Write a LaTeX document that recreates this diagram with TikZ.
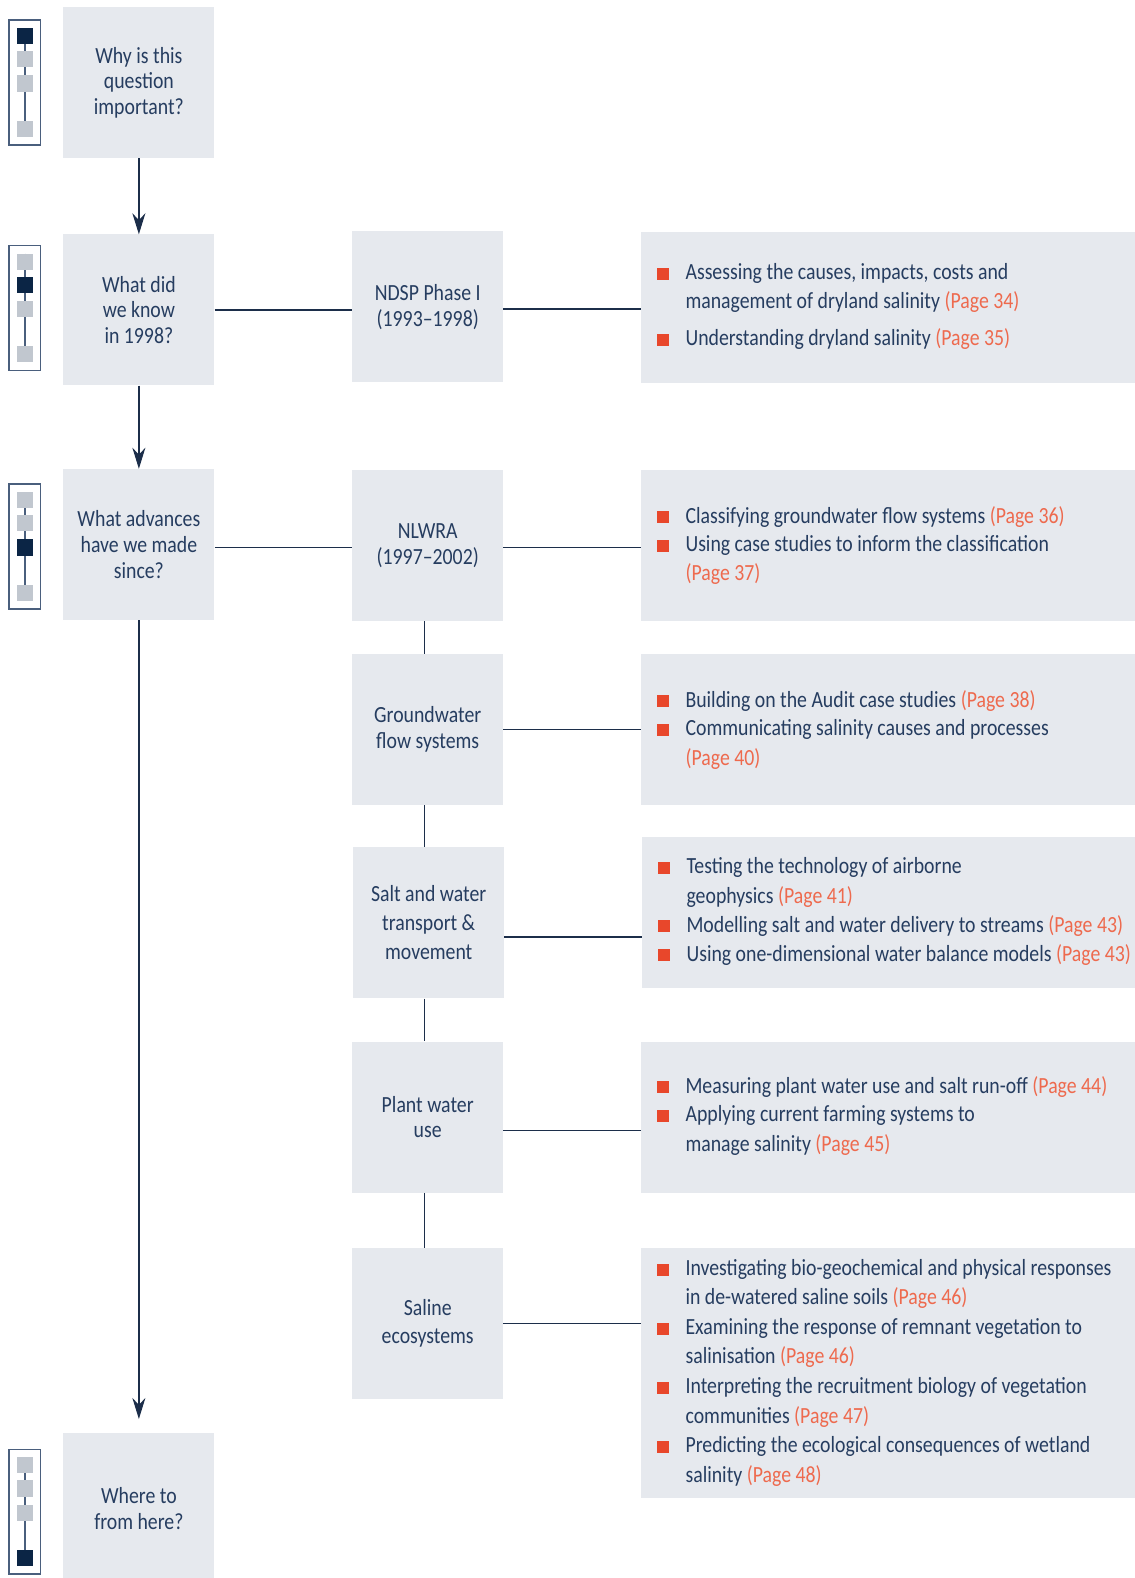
\documentclass[tikz,border=0pt]{standalone}
\usepackage{fontspec}
\setmainfont{Carlito}[FakeStretch=0.855]
\usetikzlibrary{arrows.meta}
\definecolor{boxc}{HTML}{E6E9EE}
\definecolor{txtc}{HTML}{263D60}
\definecolor{linec}{HTML}{1C2E4A}
\definecolor{sqdark}{HTML}{0B2545}
\definecolor{sqgray}{HTML}{C1C7CF}
\definecolor{framec}{HTML}{4A5F7D}
\definecolor{bulc}{HTML}{E8472B}
\definecolor{pgc}{HTML}{EE6A4E}
\newcommand\bul{\makebox[28pt][l]{\textcolor{bulc}{\rule{12pt}{12pt}}}}
\newcommand\ind{\hspace*{28pt}}
\newcommand\pg[1]{\textcolor{pgc}{(Page #1)}}
\newcommand\drawicon[2]{%
  \draw[framec, line width=1.3pt] (9,#1) rectangle (40,#1+124);
  \draw[framec, line width=1.6pt] (25,#1+8) -- (25,#1+108);
  \foreach \o [count=\i] in {8,31,55,100}{%
    \ifnum\i=#2\relax
      \fill[sqdark] (17,#1+\o) rectangle (33,#1+\o+16);
    \else
      \fill[sqgray] (17,#1+\o) rectangle (33,#1+\o+16);
    \fi}%
}
\tikzset{
  qbox/.style={fill=boxc, draw=none, inner sep=0pt, minimum width=150pt,
    minimum height=150pt, align=center, text=txtc,
    font=\fontsize{23}{25.5}\selectfont},
  rbox/.style={fill=boxc, draw=none, inner sep=0pt, minimum width=491pt},
  itm/.style={anchor=base west, inner sep=0pt, align=left, text=txtc,
    font=\fontsize{23}{29.1}\selectfont},
  conn/.style={draw=linec, line width=1.3pt},
  arr/.style={conn, -{Stealth[length=21pt, width=13pt, inset=7pt]}}
}
\begin{document}
\begin{tikzpicture}[x=1pt,y=-1pt]
\useasboundingbox (0,0) rectangle (1127.8,1568);

% left column
\node[qbox] (l1) at (138,82) {Why is this\\question\\important?};
\node[qbox] (l2) at (138,308) {What did\\we know\\in 1998?};
\node[qbox] (l3) at (138,541) {What advances\\have we made\\since?};
\node[qbox, minimum height=150pt] (l4) at (138,1499) {Where to\\from here?};

% middle column
\node[qbox] (m1) at (425,305) {NDSP Phase I\\(1993--1998)};
\node[qbox] (m2) at (425,542) {NLWRA\\(1997--2002)};
\node[qbox] (m3) at (425,725) {Groundwater\\flow systems};
\node[qbox, font=\fontsize{23}{29}\selectfont] (m4) at (426,917) {Salt and water\\transport \&\\movement};
\node[qbox] (m5) at (425,1110) {Plant water\\use};
\node[qbox, font=\fontsize{23}{28}\selectfont] (m6) at (425,1315) {Saline\\ecosystems};

% right column boxes
\node[rbox, minimum height=150pt] (r1) at (882.5,306) {};
\node[rbox, minimum height=150pt] (r2) at (882.5,542) {};
\node[rbox, minimum height=150pt] (r3) at (882.5,725) {};
\node[rbox, minimum height=150pt, minimum width=490pt] (r4) at (883,907) {};
\node[rbox, minimum height=150pt] (r5) at (882.5,1110) {};
\node[rbox, minimum height=248pt] (r6) at (882.5,1364) {};

% items (anchor = baseline of last line)
\node[itm] (i1a) at (653,307) {\bul Assessing the causes, impacts, costs and\\\ind management of dryland salinity \pg{34}};
\node[itm] (i1b) at (653,343.8) {\bul Understanding dryland salinity \pg{35}};
\node[itm] (i2a) at (653,519.7) {\bul Classifying groundwater flow systems \pg{36}};
\node[itm] (i2b) at (653,577.3) {\bul Using case studies to inform the classification\\\ind \pg{37}};
\node[itm] (i3a) at (653,702.7) {\bul Building on the Audit case studies \pg{38}};
\node[itm] (i3b) at (653,760.3) {\bul Communicating salinity causes and processes\\\ind \pg{40}};
\node[itm] (i4a) at (654,897.3) {\bul Testing the technology of airborne\\\ind geophysics \pg{41}};
\node[itm] (i4b) at (654,926.1) {\bul Modelling salt and water delivery to streams \pg{43}};
\node[itm] (i4c) at (654,954.9) {\bul Using one-dimensional water balance models \pg{43}};
\node[itm] (i5a) at (653,1086.1) {\bul Measuring plant water use and salt run-off \pg{44}};
\node[itm] (i5b) at (653,1143.7) {\bul Applying current farming systems to\\\ind manage salinity \pg{45}};
\node[itm] (i6a) at (653,1296.7) {\bul Investigating bio-geochemical and physical responses\\\ind in de-watered saline soils \pg{46}};
\node[itm] (i6b) at (653,1355.3) {\bul Examining the response of remnant vegetation to\\\ind salinisation \pg{46}};
\node[itm] (i6c) at (653,1414) {\bul Interpreting the recruitment biology of vegetation\\\ind communities \pg{47}};
\node[itm] (i6d) at (653,1472.6) {\bul Predicting the ecological consequences of wetland\\\ind salinity \pg{48}};

% icons
\drawicon{20}{1}
\drawicon{244}{2}
\drawicon{481}{3}
\drawicon{1440}{4}

% arrows
\coordinate (e4) at (138,1410);
\draw[arr] (l1.south) -- (l2.north);
\draw[arr] (l2.south) -- (l3.north);
\draw[arr] (l3.south) -- (e4);

% horizontal connectors
\draw[conn] (l2.east) -- (l2.east -| m1.west);
\draw[conn] ([yshift=-2pt]m1.east) -- ([yshift=-2pt]m1.east -| r1.west);
\draw[conn] ([yshift=-3pt]l3.east) -- ([yshift=-3pt]l3.east -| m2.west);
\draw[conn] ([yshift=-2pt]m2.east) -- ([yshift=-2pt]m2.east -| r2.west);
\draw[conn] (m3.east) -- (m3.east -| r3.west);
\draw[conn] ([yshift=-14pt]m4.east) -- ([yshift=-14pt]m4.east -| r4.west);
\draw[conn] ([yshift=-13pt]m5.east) -- ([yshift=-13pt]m5.east -| r5.west);
\draw[conn] (m6.east) -- (m6.east -| r6.west);

% vertical connectors
\draw[conn] ([xshift=-3pt]m2.south) -- ([xshift=-3pt]m2.south |- m3.north);
\draw[conn] ([xshift=-3pt]m3.south) -- ([xshift=-3pt]m3.south |- m4.north);
\draw[conn] ([xshift=-4pt]m4.south) -- ([xshift=-4pt]m4.south |- m5.north);
\draw[conn] ([xshift=-3pt]m5.south) -- ([xshift=-3pt]m5.south |- m6.north);
\end{tikzpicture}
\end{document}
